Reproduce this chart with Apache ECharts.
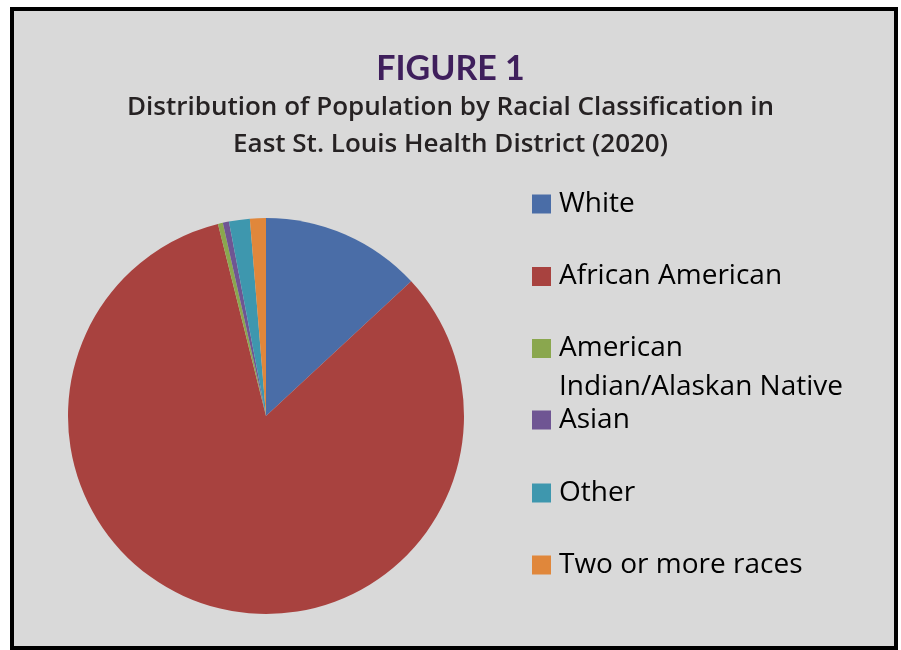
<!DOCTYPE html>
<html>
<head>
<meta charset="utf-8">
<script src="https://cdn.jsdelivr.net/npm/echarts@6/dist/echarts.min.js"></script>
<style>html,body{margin:0;padding:0;background:#fff}#c{width:901px;height:650px}</style>
</head>
<body>
<div id="c"></div>
<script>
const categories = ['White', 'African American', 'American Indian/Alaskan Native', 'Asian', 'Other', 'Two or more races'];
const values = [13.1, 83.0, 0.4, 0.5, 1.7, 1.3];
const colors = ['#4A6DA7', '#A8423F', '#8AA74E', '#6F5593', '#3E97AE', '#E0873B'];
const titleText = 'FIGURE 1';
const subtitleLines = ['Distribution of Population by Racial Classification in', 'East St. Louis Health District (2020)'];
const legendLines = [['White'], ['African American'], ['American', 'Indian/Alaskan Native'], ['Asian'], ['Other'], ['Two or more races']];

const chart = echarts.init(document.getElementById('c'), null, {renderer: 'canvas'});
const legendCenters = [201, 273.5, 345.5, 417, 490, 562];
const legendLineGap = 39;
const legendFont = 'Open Sans';
const legends = [];
categories.forEach((name, i) => {
  legendLines[i].forEach((line, j) => {
    const lg = {
      data: [name], left: 532, orient: 'vertical', icon: 'rect',
      itemWidth: 19, itemHeight: 19, padding: 0,
      selectedMode: false,
      top: legendCenters[i] + j * legendLineGap - 20 - 3,
      formatter: () => line,
      textStyle: {fontFamily: legendFont, fontSize: 28, color: '#000', lineHeight: 40, padding: [0, 0, 12, 3]}
    };
    if (j > 0) lg.itemStyle = {opacity: 0, color: 'rgba(0,0,0,0)'};
    legends.push(lg);
  });
});

chart.setOption({
  backgroundColor: '#ffffff',
  animation: false,
  graphic: [{
    type: 'rect', z: -10, silent: true,
    shape: {x: 12, y: 9, width: 884, height: 639},
    style: {fill: '#d9d9d9', stroke: '#000', lineWidth: 4}
  }],
  title: [{
    text: titleText, left: 'center', top: 47,
    textStyle: {fontFamily: 'Lato', fontWeight: 'bold', fontSize: 34, color: '#3F1F5C'}
  }].concat(subtitleLines.map((t, k) => ({
    text: t, left: 'center', top: 93 + k * 37, padding: 0,
    textStyle: {fontFamily: 'Open Sans', fontWeight: 600, fontSize: 26, color: '#262223', lineHeight: 30}
  }))),
  legend: legends,
  series: [{
    type: 'pie',
    center: [266, 416],
    radius: 198,
    startAngle: 90,
    clockwise: true,
    label: {show: false},
    labelLine: {show: false},
    emphasis: {disabled: true},
    itemStyle: {borderWidth: 0},
    data: categories.map((n, i) => ({name: n, value: values[i], itemStyle: {color: colors[i]}}))
  }]
});
</script>
</body>
</html>
